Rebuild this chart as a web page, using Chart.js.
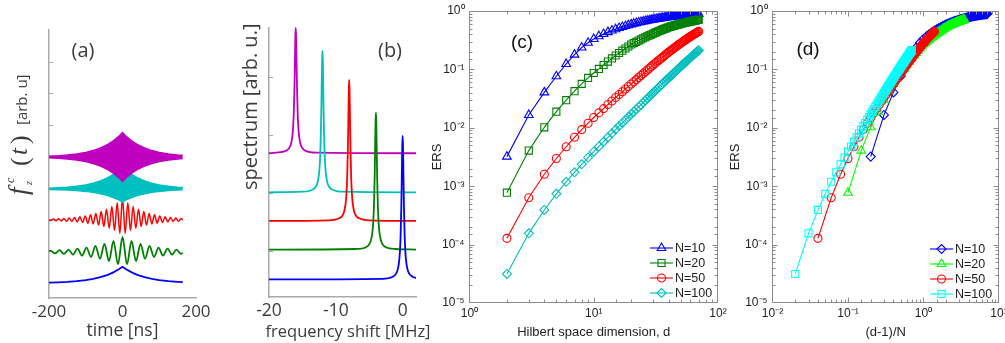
<!DOCTYPE html>
<html><head><meta charset="utf-8"><title>Figure</title>
<script src="https://cdn.jsdelivr.net/npm/chart.js@4.4.1/dist/chart.umd.min.js"></script>
<style>
html,body{margin:0;padding:0;background:#fff}
body{width:1005px;height:343px;position:relative;overflow:hidden}
canvas{position:absolute;top:0}
</style></head><body>
<canvas id="ca" style="left:0px;width:240px;height:343px" width="240" height="343"></canvas>
<canvas id="cb" style="left:240px;width:200px;height:343px" width="200" height="343"></canvas>
<canvas id="cc" style="left:425px;width:305px;height:343px" width="305" height="343"></canvas>
<canvas id="cd" style="left:722px;width:283px;height:343px" width="283" height="343"></canvas>
<script>
// ---------------- Panel (a): time traces (arb. u., offset per trace) ----------------
const timeEnv = [-200,-175,-150,-125,-100,-80,-60,-40,-25,-10,-5,0,5,10,25,40,60,80,100,125,150,164];
const blueTrace = [-0.014,-0.005,0.010,0.032,0.066,0.105,0.160,0.236,0.312,0.410,0.449,0.491,0.449,0.410,0.312,0.236,0.160,0.105,0.066,0.032,0.010,0.001];
const cyanUpper = [2.982,2.995,3.014,3.044,3.089,3.142,3.215,3.316,3.418,3.549,3.601,3.657,3.601,3.549,3.418,3.316,3.215,3.142,3.089,3.044,3.014,3.003];
const cyanLower = [2.942,2.935,2.923,2.906,2.880,2.849,2.806,2.747,2.687,2.610,2.580,2.547,2.580,2.610,2.687,2.747,2.806,2.849,2.880,2.906,2.923,2.930];
const magUpper = [4.000,4.014,4.036,4.069,4.119,4.177,4.258,4.371,4.484,4.629,4.687,4.749,4.687,4.629,4.484,4.371,4.258,4.177,4.119,4.069,4.036,4.023];
const magLower = [3.944,3.930,3.908,3.875,3.825,3.767,3.686,3.573,3.460,3.315,3.257,3.195,3.257,3.315,3.460,3.573,3.686,3.767,3.825,3.875,3.908,3.922];
const greenTime = [-200,-196,-183.75,-171.5,-159.25,-147,-134.75,-122.5,-110.25,-98,-85.75,-73.5,-61.25,-49,-36.75,-24.5,-12.25,0,12.25,24.5,36.75,49,61.25,73.5,85.75,98,110.25,122.5,134.75,147,159.25,164];
const greenTrace = [0.99,1.001,0.914,1.016,0.897,1.036,0.874,1.063,0.844,1.100,0.803,1.150,0.746,1.218,0.669,1.310,0.565,1.436,0.565,1.310,0.669,1.218,0.746,1.150,0.803,1.100,0.844,1.063,0.874,1.036,0.897,0.93];
const redTime = [-200,-195.75,-188.5,-181.25,-174,-166.75,-159.5,-152.25,-145,-137.75,-130.5,-123.25,-116,-108.75,-101.5,-94.25,-87,-79.75,-72.5,-65.25,-58,-50.75,-43.5,-36.25,-29,-21.75,-14.5,-7.25,0,7.25,14.5,21.75,29,36.25,43.5,50.75,58,65.25,72.5,79.75,87,94.25,101.5,108.75,116,123.25,130.5,137.75,145,152.25,159.5,164];
const redTrace = [1.974,1.956,2.004,1.951,2.013,1.944,2.023,1.936,2.036,1.926,2.053,1.913,2.075,1.896,2.103,1.874,2.138,1.847,2.183,1.812,2.240,1.768,2.313,1.712,2.405,1.640,2.524,1.549,2.674,1.549,2.524,1.640,2.405,1.712,2.313,1.768,2.240,1.812,2.183,1.847,2.138,1.874,2.103,1.896,2.075,1.913,2.053,1.926,2.036,1.936,2.023,1.974];
const timeTicks = [-200, 0, 200];

// ---------------- Panel (b): spectra (arb. u., offset per trace) ----------------
const magFreq = [-20,-19,-17.5,-17,-16.7,-16.5,-16.4,-16.3,-16.2,-16.15,-16.1,-16.05,-16,-15.95,-15.9,-15.85,-15.8,-15.7,-15.6,-15.5,-15.3,-15,-14.5,-13,2];
const magSpec = [3.37,3.39,3.45,3.54,3.70,3.97,4.24,4.70,5.54,6.14,6.83,7.45,7.70,7.45,6.83,6.14,5.54,4.70,4.24,3.97,3.70,3.54,3.45,3.39,3.37];
const cyanFreq = [-20,-15,-13.5,-13,-12.7,-12.5,-12.4,-12.3,-12.2,-12.15,-12.1,-12.05,-12,-11.95,-11.9,-11.85,-11.8,-11.7,-11.6,-11.5,-11.3,-11,-10.5,-9,2];
const cyanSpec = [2.02,2.04,2.11,2.21,2.39,2.70,3.00,3.53,4.47,5.15,5.93,6.62,6.91,6.62,5.93,5.15,4.47,3.53,3.00,2.70,2.39,2.21,2.11,2.04,2.02];
const redFreq = [-20,-11,-9.5,-9,-8.7,-8.5,-8.4,-8.3,-8.2,-8.15,-8.1,-8.05,-8,-7.95,-7.9,-7.85,-7.8,-7.7,-7.6,-7.5,-7.3,-7,-6.5,-5,2];
const redSpec = [1.03,1.05,1.12,1.22,1.40,1.70,2.01,2.53,3.47,4.15,4.93,5.62,5.91,5.62,4.93,4.15,3.47,2.53,2.01,1.70,1.40,1.22,1.12,1.05,1.03];
const greenFreq = [-20,-7,-5.5,-5,-4.7,-4.5,-4.4,-4.3,-4.2,-4.15,-4.1,-4.05,-4,-3.95,-3.9,-3.85,-3.8,-3.7,-3.6,-3.5,-3.3,-3,-2.5,-1,2];
const greenSpec = [0.04,0.06,0.12,0.22,0.40,0.69,0.99,1.50,2.41,3.07,3.82,4.49,4.77,4.49,3.82,3.07,2.41,1.50,0.99,0.69,0.40,0.22,0.12,0.06,0.04];
const blueFreq = [-20,-3,-1.5,-1,-0.7,-0.5,-0.4,-0.3,-0.2,-0.15,-0.1,-0.05,0,0.05,0.1,0.15,0.2,0.3,0.4,0.5,0.7,1,1.5,2];
const blueSpec = [-0.99,-0.97,-0.90,-0.80,-0.62,-0.31,0.00,0.54,1.49,2.18,2.98,3.68,3.97,3.68,2.98,2.18,1.49,0.54,0.00,-0.31,-0.62,-0.80,-0.90,-0.94];

// ---------------- Panels (c), (d): ERS vs Hilbert space dimension ----------------
const dims = [2,3,4,5,6,7,8,9,10,11,12,13,14,15,16,17,18,19,20,21,22,23,24,25,26,27,28,29,30,31,32,33,34,35,36,37,38,39,40,41,42,43,44,45,46,47,48,49,50,51,52,53,54,55,56,57,58,59,60,61,62,63,64,65,66,67,68,69,70];
const ersN10 = [0.00321,0.0166,0.0404,0.0763,0.124,0.179,0.237,0.286,0.332,0.370,0.404,0.435,0.463,0.488,0.511,0.532,0.552,0.571,0.590,0.606,0.621,0.635,0.648,0.660,0.672,0.683,0.693,0.703,0.712,0.721,0.730,0.738,0.746,0.753,0.760,0.767,0.774,0.780,0.786,0.792,0.798,0.803,0.808,0.813,0.818,0.823,0.827,0.831,0.835,0.839,0.843,0.847,0.850,0.854,0.857,0.860,0.863,0.866,0.869,0.872,0.875,0.877,0.880,0.882,0.885,0.887,0.889,0.891,0.893];
const ersN20 = [0.000774,0.00407,0.0102,0.0189,0.0297,0.0424,0.0565,0.0715,0.0869,0.102,0.119,0.136,0.154,0.173,0.191,0.209,0.228,0.247,0.267,0.282,0.297,0.312,0.327,0.341,0.355,0.369,0.382,0.395,0.408,0.421,0.434,0.447,0.459,0.471,0.483,0.494,0.505,0.516,0.527,0.536,0.544,0.552,0.560,0.568,0.576,0.583,0.590,0.598,0.605,0.611,0.617,0.623,0.629,0.635,0.641,0.647,0.652,0.658,0.663,0.668,0.673,0.678,0.683,0.688,0.692,0.697,0.701,0.706,0.710];
const ersN50 = [0.000128,0.000635,0.0016,0.00298,0.00474,0.00687,0.00931,0.0120,0.0150,0.0180,0.0213,0.0250,0.0288,0.0330,0.0372,0.0415,0.0462,0.0511,0.0561,0.0614,0.0669,0.0726,0.0786,0.0848,0.0912,0.0978,0.1046,0.1116,0.1189,0.1259,0.1331,0.1404,0.1480,0.1557,0.1635,0.1715,0.1797,0.1881,0.1968,0.2047,0.2127,0.2209,0.2292,0.2376,0.2461,0.2547,0.2634,0.2723,0.2812,0.2894,0.2977,0.3060,0.3144,0.3228,0.3313,0.3400,0.3486,0.3575,0.3664,0.3742,0.3823,0.3902,0.3984,0.4064,0.4145,0.4228,0.4310,0.4392,0.4477];
const ersN100 = [3.14e-5,1.56e-4,3.92e-4,7.40e-4,1.19e-3,1.73e-3,2.37e-3,3.09e-3,3.90e-3,4.79e-3,5.77e-3,6.85e-3,8.04e-3,9.33e-3,0.0107,0.0121,0.0137,0.0153,0.0171,0.0189,0.0208,0.0228,0.0249,0.0271,0.0294,0.0319,0.0344,0.0369,0.0396,0.0424,0.0452,0.0482,0.0512,0.0544,0.0576,0.0609,0.0643,0.0679,0.0715,0.0751,0.0787,0.0826,0.0865,0.0904,0.0945,0.0986,0.1029,0.1072,0.1117,0.1161,0.1206,0.1252,0.1297,0.1345,0.1393,0.1442,0.1491,0.1542,0.1592,0.1642,0.1694,0.1746,0.1800,0.1853,0.1908,0.1963,0.2019,0.2075,0.2133];
const seriesN = [10, 20, 50, 100];
const legendLabels = ['N=10', 'N=20', 'N=50', 'N=100'];

// ---------------- helpers ----------------
const TX = '#3b3b3b', AX = '#a9a9a9', BOX = '#8c8c8c', DARK = '#222';
const MAG = '#bf00bf', CYA = '#00bfbf', RED = '#ff0000', GRN = '#008000', BLU = '#0000ff';
function xy(xs, ys) { return xs.map((x, i) => ({x: x, y: ys[i]})); }
function fixW(w) { return s => { s.width = w; s.paddingTop = 0; s.paddingBottom = 0; }; }
function fixH(h) { return s => { s.height = h; s.paddingLeft = 0; s.paddingRight = 0; }; }
const SUP = {'0':'\u2070','1':'\u00b9','2':'\u00b2','3':'\u00b3','4':'\u2074','5':'\u2075','6':'\u2076','7':'\u2077','8':'\u2078','9':'\u2079','-':'\u207b'};
function isDecade(v) { const l = Math.log10(v); return Math.abs(l - Math.round(l)) < 1e-6; }
function decadeLabel(v) { if (!isDecade(v)) return ''; const r = Math.round(Math.log10(v)); return '10' + String(r).split('').map(c => SUP[c]).join(''); }
function baseOpts() { return {responsive:false, animation:false, devicePixelRatio:1, events:[], plugins:{legend:{display:false}, tooltip:{enabled:false}}}; }
function trace(xs, ys, color, extra) { return Object.assign({data: xy(xs, ys), borderColor: color, backgroundColor: color, borderWidth: 1.8, pointRadius: 0, fill: false, tension: 0}, extra || {}); }
function inwardTicks(c) {
  const ctx = c.ctx, a = c.chartArea, y = c.scales.y;
  ctx.save(); ctx.strokeStyle = AX; ctx.lineWidth = 1; ctx.beginPath();
  for (const t of y.ticks) {
    if (t.value <= y.min || t.value >= y.max) continue;
    const p = Math.round(y.getPixelForValue(t.value)) + 0.5;
    ctx.moveTo(a.left, p); ctx.lineTo(a.left + 4, p);
  }
  ctx.stroke(); ctx.restore();
}

// ---------------- Chart (a) ----------------
const optA = baseOpts();
optA.layout = {padding: {left: 49, right: 44, top: 30, bottom: 0}};
optA.scales = {
  x: {type:'linear', min: timeTicks[0], max: timeTicks[2], afterFit: fixH(45),
      grid:{display:false, drawTicks:false}, border:{color:AX, width:1.5},
      afterBuildTicks: s => { s.ticks = timeTicks.map(v => ({value: v})); },
      ticks:{padding:4, color:TX, font:{family:'Open Sans', size:17}},
      title:{display:true, text:'time [ns]', color:TX, font:{family:'Open Sans', size:17.5}, padding:{top:0, bottom:1}}},
  y: {type:'linear', min:-0.5, max:8, afterFit: fixW(0), grid:{display:false, drawTicks:false}, border:{color:AX, width:1.5},
      ticks:{display:false, stepSize:1}}
};
new Chart(document.getElementById('ca'), {
  type:'line',
  data:{datasets:[
    trace(timeEnv, magUpper, MAG, {fill:'+1', borderWidth:1.4}),
    trace(timeEnv, magLower, MAG, {borderWidth:1.4}),
    trace(timeEnv, cyanUpper, CYA, {fill:'+1', borderWidth:1.4}),
    trace(timeEnv, cyanLower, CYA, {borderWidth:1.4}),
    trace(redTime, redTrace, RED, {borderWidth:1.5, cubicInterpolationMode:'monotone'}),
    trace(greenTime, greenTrace, GRN, {cubicInterpolationMode:'monotone'}),
    trace(timeEnv, blueTrace, BLU)
  ]},
  options: optA,
  plugins:[{id:'decoA', beforeDatasetsDraw: inwardTicks, afterDraw(c) {
    const ctx = c.ctx; ctx.save(); ctx.fillStyle = TX;
    ctx.font = '20px "Open Sans"'; ctx.textAlign = 'center'; ctx.textBaseline = 'middle';
    ctx.fillText('(a)', 83, 51);
    ctx.translate(27, 197); ctx.rotate(-Math.PI / 2);
    ctx.textAlign = 'left'; ctx.textBaseline = 'alphabetic';
    ctx.font = 'italic 27px "Liberation Serif"'; ctx.fillText('f', 2, 0);
    ctx.font = 'italic 12px "Liberation Serif"'; ctx.fillText('c', 14, -13);
    ctx.font = 'italic 10px "Liberation Serif"'; ctx.fillText('z', 12, 5);
    ctx.font = '26px "Liberation Serif"'; ctx.fillText('(', 31, 1);
    ctx.font = 'italic 25px "Liberation Serif"'; ctx.fillText('t', 42, 0);
    ctx.font = '26px "Liberation Serif"'; ctx.fillText(')', 53, 1);
    ctx.font = '15px "Open Sans"'; ctx.fillText('[arb. u]', 72, 0);
    ctx.restore();
  }}]
});

// ---------------- Chart (b) ----------------
const optB = baseOpts();
optB.layout = {padding: {left: 29, right: 24, top: 28, bottom: 0}};
optB.scales = {
  x: {type:'linear', min:-20, max:2, afterFit: fixH(46), grid:{display:false, drawTicks:false}, border:{color:AX, width:1.5},
      ticks:{stepSize:10, includeBounds:false, padding:4, color:TX, font:{family:'Open Sans', size:17.5}}},
  y: {type:'linear', min:-1.6, max:7.7, afterFit: fixW(0), grid:{display:false, drawTicks:false}, border:{color:AX, width:1.5},
      ticks:{display:false, stepSize:2}}
};
new Chart(document.getElementById('cb'), {
  type:'line',
  data:{datasets:[
    trace(blueFreq, blueSpec, BLU, {cubicInterpolationMode:'monotone'}),
    trace(greenFreq, greenSpec, GRN, {cubicInterpolationMode:'monotone'}),
    trace(redFreq, redSpec, RED, {cubicInterpolationMode:'monotone'}),
    trace(cyanFreq, cyanSpec, CYA, {cubicInterpolationMode:'monotone'}),
    trace(magFreq, magSpec, MAG, {cubicInterpolationMode:'monotone', clip:false})
  ]},
  options: optB,
  plugins:[{id:'decoB', beforeDatasetsDraw: inwardTicks, afterDraw(c) {
    const ctx = c.ctx; ctx.save(); ctx.fillStyle = TX;
    ctx.font = '20px "Open Sans"'; ctx.textAlign = 'center'; ctx.textBaseline = 'middle';
    ctx.fillText('(b)', 150, 51);
    ctx.font = '16.5px "Open Sans"';
    ctx.fillText('frequency shift [MHz]', 108, 332);
    ctx.translate(11, 190); ctx.rotate(-Math.PI / 2);
    ctx.textAlign = 'left'; ctx.font = '20px "Open Sans"';
    ctx.fillText('spectrum [arb. u.]', 0, 0);
    ctx.restore();
  }}]
});

// ---------------- Charts (c), (d) ----------------
function ersSet(xs, ys, color, style, r, order) {
  return {data: xy(xs, ys), borderColor: color, backgroundColor: 'rgba(0,0,0,0)', borderWidth: 1.1,
          pointStyle: style, pointRadius: r, pointBorderColor: color, pointBackgroundColor: 'rgba(0,0,0,0)',
          pointBorderWidth: 1.1, order: order, tension: 0, fill: false};
}
function boxDeco(id, label, lx, ly, legend) {
  return {id: id, afterDatasetsDraw(c) {
    const ctx = c.ctx, a = c.chartArea, sx = c.scales.x, sy = c.scales.y;
    const L = Math.floor(a.left) + 0.5, R = Math.round(a.right) - 0.5, T = Math.round(a.top) + 0.5, B = Math.round(a.bottom) - 0.5;
    ctx.save(); ctx.strokeStyle = BOX; ctx.lineWidth = 1;
    ctx.strokeRect(L, T, R - L, B - T);
    ctx.beginPath();
    for (const t of sx.ticks) {
      const p = Math.round(sx.getPixelForValue(t.value)) + 0.5;
      if (p <= L + 1 || p >= R - 1) continue;
      const len = isDecade(t.value) ? 5 : 3;
      ctx.moveTo(p, B); ctx.lineTo(p, B - len); ctx.moveTo(p, T); ctx.lineTo(p, T + len);
    }
    for (const t of sy.ticks) {
      const p = Math.round(sy.getPixelForValue(t.value)) + 0.5;
      if (p <= T + 1 || p >= B - 1) continue;
      const len = isDecade(t.value) ? 5 : 3;
      ctx.moveTo(L, p); ctx.lineTo(L + len, p); ctx.moveTo(R, p); ctx.lineTo(R - len, p);
    }
    ctx.stroke();
    ctx.fillStyle = '#111'; ctx.font = '19px "Liberation Sans"'; ctx.textAlign = 'center'; ctx.textBaseline = 'middle';
    ctx.fillText(label, lx, ly);
    // legend
    ctx.font = '12.5px "Liberation Sans"'; ctx.textAlign = 'left';
    legend.items.forEach((it, i) => {
      const y = legend.ys[i];
      ctx.strokeStyle = it.color; ctx.lineWidth = 1.1;
      ctx.beginPath(); ctx.moveTo(legend.x0, y); ctx.lineTo(legend.x1, y); ctx.stroke();
      ctx.fillStyle = 'rgba(0,0,0,0)';
      Chart.helpers.drawPoint(ctx, {pointStyle: it.style, radius: it.r, rotation: 0, borderWidth: 1.1}, (legend.x0 + legend.x1) / 2, y);
      ctx.fillStyle = DARK; ctx.fillText(it.text, legend.tx, y + 0.5);
    });
    ctx.restore();
  }};
}
function logOpts(xmin, xmax, yw, padRight, xTitle, titlePad) {
  const o = baseOpts();
  o.layout = {padding: {left: 0, right: padRight, top: 11, bottom: 0}};
  const tf = {family:'Liberation Sans', size:12};
  o.scales = {
    x: {type:'logarithmic', min:xmin, max:xmax, afterFit: fixH(40), grid:{display:false, drawTicks:false}, border:{display:false},
        ticks:{autoSkip:false, maxRotation:0, padding:3, color:DARK, font:tf, callback: v => decadeLabel(v)},
        title:{display:true, text:xTitle, color:DARK, font:{family:'Liberation Sans', size:13}, padding:{top:0, bottom:3}}},
    y: {type:'logarithmic', min:1e-5, max:1, afterFit: fixW(yw), grid:{display:false, drawTicks:false}, border:{display:false},
        ticks:{autoSkip:false, padding:5, color:DARK, font:tf, callback: v => decadeLabel(v)},
        title:{display:true, text:'ERS', color:DARK, font:{family:'Liberation Sans', size:13}, padding:{top:titlePad, bottom:0}}}
  };
  return o;
}

new Chart(document.getElementById('cc'), {
  type:'line',
  data:{datasets:[
    ersSet(dims, ersN10, BLU, 'triangle', 5, 4),
    ersSet(dims, ersN20, GRN, 'rect', 5, 3),
    ersSet(dims, ersN50, RED, 'circle', 4, 2),
    ersSet(dims, ersN100, CYA, 'rectRot', 4.5, 1)
  ]},
  options: logOpts(1, 100, 44.5, 12, 'Hilbert space dimension, d', 4.2),
  plugins:[boxDeco('decoC', '(c)', 97, 43, {x0: 225, x1: 248, tx: 250, ys: [248, 263, 278, 293], items: [
    {text: legendLabels[0], color: BLU, style: 'triangle', r: 5},
    {text: legendLabels[1], color: GRN, style: 'rect', r: 5},
    {text: legendLabels[2], color: RED, style: 'circle', r: 4},
    {text: legendLabels[3], color: CYA, style: 'rectRot', r: 4.5}]})]
});

const LBLU = '#0000ff', LGRN = '#00ff00', LRED = '#ff0000', LCYA = '#00ffff';
new Chart(document.getElementById('cd'), {
  type:'line',
  data:{datasets:[
    ersSet(dims.map(d => d / seriesN[0]), ersN10, LBLU, 'rectRot', 4.5, 4),
    ersSet(dims.map(d => d / seriesN[1]), ersN20, LGRN, 'triangle', 5, 3),
    ersSet(dims.map(d => d / seriesN[2]), ersN50, LRED, 'circle', 4, 2),
    ersSet(dims.map(d => d / seriesN[3]), ersN100, LCYA, 'rect', 5, 1)
  ]},
  options: logOpts(0.01, 10, 50.5, 6, '(d-1)/N', 5.2),
  plugins:[boxDeco('decoD', '(d)', 86, 50, {x0: 208, x1: 231, tx: 233, ys: [249, 264, 279, 294], items: [
    {text: legendLabels[0], color: LBLU, style: 'rectRot', r: 4.5},
    {text: legendLabels[1], color: LGRN, style: 'triangle', r: 5},
    {text: legendLabels[2], color: LRED, style: 'circle', r: 4},
    {text: legendLabels[3], color: LCYA, style: 'rect', r: 5}]})]
});
</script></body></html>
